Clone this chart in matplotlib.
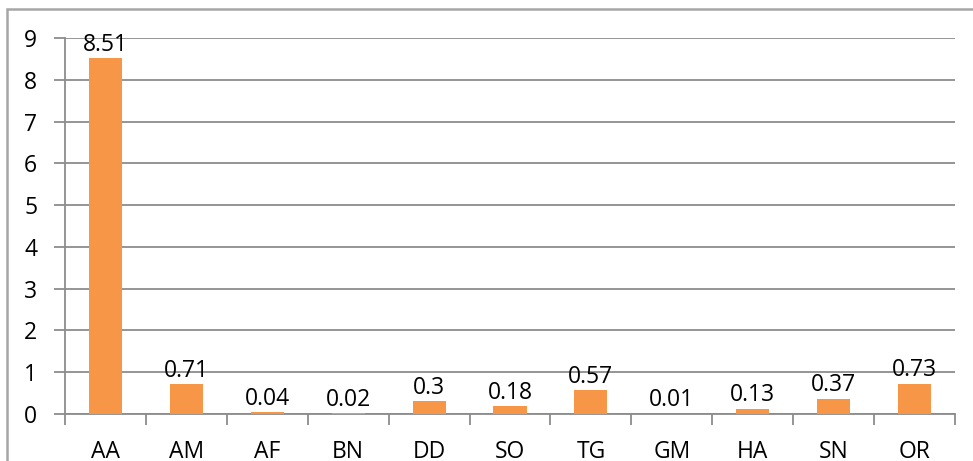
import matplotlib
matplotlib.use("Agg")
from matplotlib import pyplot as plt
from matplotlib.patches import Rectangle
import numpy as np

categories = ["AA", "AM", "AF", "BN", "DD", "SO", "TG", "GM", "HA", "SN", "OR"]
values = [8.51, 0.71, 0.04, 0.02, 0.3, 0.18, 0.57, 0.01, 0.13, 0.37, 0.73]
value_labels = ["8.51", "0.71", "0.04", "0.02", "0.3", "0.18", "0.57", "0.01", "0.13", "0.37", "0.73"]
y_ticks = list(range(10))

plt.rcParams['font.family'] = ['Open Sans', 'DejaVu Sans']
grid_col = "#8c8c8c"
fs = 16.5

fig = plt.figure(figsize=(9.73, 4.61), dpi=100)
W, H = 973, 461
ax = fig.add_axes([65 / W, 1 - 414 / H, (955 - 65) / W, (414 - 38) / H])

# outer chart border (cropped on right and bottom)
fig.patches.append(Rectangle((7 / W, -0.1), 1.2, 1 - 9 / H + 0.1, transform=fig.transFigure,
                             fill=False, edgecolor="#a6a6a6", linewidth=1.8))

x = np.arange(len(categories))
bars = ax.bar(x, values, width=0.41, color="#F79646", zorder=3)

for xi, v, lab in zip(x, values, value_labels):
    ax.annotate(lab, (xi, v), xytext=(0, 1), textcoords="offset points",
                ha="center", va="bottom", fontsize=fs)

ax.set_xlim(-0.5, len(categories) - 0.5)
ax.set_ylim(0, 9)
ax.set_yticks(y_ticks)
ax.yaxis.grid(True, color=grid_col, linewidth=1.3, zorder=0)
ax.tick_params(axis="y", length=8, width=1.3, color=grid_col, pad=12, labelsize=fs)

ax.set_xticks(x)
ax.set_xticklabels(categories)
ax.set_xticks(np.arange(len(categories) + 1) - 0.5, minor=True)
ax.tick_params(axis="x", which="major", length=0, pad=19, labelsize=fs)
ax.tick_params(axis="x", which="minor", length=8, width=1.3, color=grid_col)

for s in ["top", "right"]:
    ax.spines[s].set_visible(False)
for s in ["left", "bottom"]:
    ax.spines[s].set_color(grid_col)
    ax.spines[s].set_linewidth(1.3)

fig.savefig("out.png", dpi=100)
